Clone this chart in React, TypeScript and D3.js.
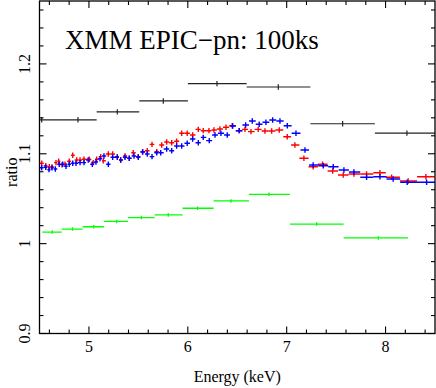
import React from "react";
import * as d3 from "d3";

// ---- data (energy keV, ratio) ----
const blackE = [4.522, 4.889, 5.287, 5.752, 6.295, 6.915, 7.566, 8.216];
const blackLo = [4.337, 4.707, 5.078, 5.509, 6.001, 6.595, 7.240, 7.892];
const blackHi = [4.707, 5.078, 5.509, 6.001, 6.595, 7.240, 7.892, 8.540];
const blackR = [1.1378, 1.1378, 1.1466, 1.1588, 1.178, 1.1743, 1.1334, 1.123];
const blackErr = 0.003;

const greenE = [4.629, 4.834, 5.048, 5.281, 5.530, 5.802, 6.099, 6.436, 6.821, 7.303, 7.927];
const greenLo = [4.528, 4.724, 4.936, 5.151, 5.394, 5.664, 5.947, 6.261, 6.618, 7.033, 7.576];
const greenHi = [4.724, 4.936, 5.151, 5.394, 5.664, 5.947, 6.261, 6.618, 7.033, 7.576, 8.227];
const greenR = [1.0129, 1.0162, 1.0188, 1.0247, 1.029, 1.032, 1.0394, 1.0475, 1.0549, 1.0218, 1.0063];
const greenErr = 0.002;

const redE = [4.522, 4.563, 4.599, 4.626, 4.667, 4.694, 4.728, 4.758, 4.801, 4.836, 4.876, 4.910, 4.950, 5.004, 5.044, 5.078, 5.119, 5.145, 5.196, 5.240, 5.287, 5.321, 5.365, 5.408, 5.448, 5.499, 5.543, 5.590, 5.638, 5.685, 5.736, 5.786, 5.837, 5.887, 5.938, 5.994, 6.049, 6.106, 6.156, 6.214, 6.264, 6.325, 6.386, 6.449, 6.520, 6.578, 6.639, 6.712, 6.780, 6.848, 6.925, 7.006, 7.083, 7.174, 7.268, 7.363, 7.465, 7.572, 7.680, 7.808, 7.943, 8.061, 8.229, 8.408];
const redR = [1.0894, 1.0867, 1.0856, 1.0853, 1.0901, 1.0916, 1.0878, 1.0883, 1.0916, 1.0983, 1.0931, 1.0931, 1.0939, 1.0939, 1.0901, 1.0939, 1.0968, 1.0923, 1.0998, 1.0998, 1.0968, 1.0931, 1.0975, 1.0950, 1.1012, 1.0968, 1.1023, 1.1034, 1.1105, 1.1023, 1.1098, 1.1131, 1.1123, 1.1139, 1.1228, 1.1228, 1.1209, 1.1272, 1.1257, 1.1257, 1.1265, 1.1276, 1.1295, 1.1312, 1.1257, 1.1272, 1.1246, 1.1272, 1.1254, 1.1254, 1.1265, 1.1190, 1.1098, 1.0950, 1.0856, 1.0883, 1.0808, 1.0764, 1.0775, 1.0775, 1.0789, 1.0738, 1.0697, 1.0745];
const redErr = 0.003;

const blueE = [4.522, 4.563, 4.596, 4.626, 4.660, 4.700, 4.735, 4.768, 4.801, 4.836, 4.869, 4.910, 4.950, 4.993, 5.034, 5.071, 5.112, 5.152, 5.196, 5.240, 5.287, 5.321, 5.365, 5.408, 5.456, 5.499, 5.543, 5.590, 5.638, 5.685, 5.726, 5.786, 5.837, 5.887, 5.938, 5.994, 6.049, 6.106, 6.156, 6.217, 6.275, 6.335, 6.399, 6.454, 6.520, 6.585, 6.652, 6.722, 6.790, 6.858, 6.932, 7.006, 7.094, 7.185, 7.268, 7.370, 7.471, 7.579, 7.680, 7.808, 7.943, 8.077, 8.219, 8.415];
const blueR = [1.0845, 1.0850, 1.0823, 1.0845, 1.0831, 1.0883, 1.0883, 1.0861, 1.0883, 1.0894, 1.0894, 1.0901, 1.0901, 1.0931, 1.0883, 1.0909, 1.0945, 1.0975, 1.0883, 1.0961, 1.0961, 1.0931, 1.0961, 1.0950, 1.0975, 1.0961, 1.1020, 1.0998, 1.0968, 1.1012, 1.1012, 1.1053, 1.1034, 1.1087, 1.1087, 1.1117, 1.1165, 1.1123, 1.1183, 1.1146, 1.1209, 1.1228, 1.1209, 1.1309, 1.1257, 1.1320, 1.1365, 1.1328, 1.1350, 1.1376, 1.1365, 1.1312, 1.1228, 1.1042, 1.0875, 1.0867, 1.0856, 1.0819, 1.0797, 1.0738, 1.0745, 1.0719, 1.0683, 1.0683];
const blueErr = 0.003;

const xMajor = [5, 6, 7, 8];
const yMajor = [0.9, 1, 1.1, 1.2];
const yLabels = ["0.9", "1", "1.1", "1.2"];
const title = "XMM EPIC\u2212pn: 100ks";

const W = 436, H = 388;
const L = 39.5, R = 435, T = 1, B = 333.5;
const FONT = "'Liberation Serif', 'Times New Roman', serif";

function binEdges(e: number[]) {
  const lo: number[] = [], hi: number[] = [];
  for (let i = 0; i < e.length; i++) {
    const prev = i > 0 ? (e[i - 1] + e[i]) / 2 : e[i] - (e[i + 1] - e[i]) / 2;
    const next = i < e.length - 1 ? (e[i] + e[i + 1]) / 2 : e[i] + (e[i] - e[i - 1]) / 2;
    lo.push(prev); hi.push(next);
  }
  return { lo, hi };
}

export default function App() {
  const x = d3.scaleLinear().domain([4.5, 8.5]).range([L, R]);
  const y = d3.scaleLinear().domain([0.9, 1.27]).range([B, T]);

  const xMinor = d3.range(4.6, 8.5, 0.2).filter((v) => !xMajor.some((m) => Math.abs(m - v) < 1e-6));
  const yMinor = d3.range(0.92, 1.27, 0.02).filter((v) => !yMajor.some((m) => Math.abs(m - v) < 1e-6));

  const crosses = (
    e: number[], lo: number[], hi: number[], r: number[], err: number,
    color: string, sw: number, key: string
  ) => (
    <g key={key} stroke={color} strokeWidth={sw} fill="none">
      {e.map((v, i) => (
        <g key={i}>
          <line x1={x(lo[i])} x2={x(hi[i])} y1={y(r[i])} y2={y(r[i])} />
          <line x1={x(v)} x2={x(v)} y1={y(r[i] - err)} y2={y(r[i] + err)} />
        </g>
      ))}
    </g>
  );

  const red = binEdges(redE);
  const blue = binEdges(blueE);

  return (
    <svg width={W} height={H} style={{ position: "absolute", left: 0, top: 0, background: "#fff" }}>
      <defs>
        <clipPath id="plot">
          <rect x={L} y={T} width={R - L} height={B - T} />
        </clipPath>
      </defs>
      <rect x={0} y={0} width={W} height={H} fill="#fff" />
      <g clipPath="url(#plot)">
        {crosses(blackE, blackLo, blackHi, blackR, blackErr, "#222", 1.2, "k")}
        {crosses(greenE, greenLo, greenHi, greenR, greenErr, "#00ff00", 1.3, "g")}
        {crosses(redE, red.lo, red.hi, redR, redErr, "#ff0000", 1.4, "r")}
        {crosses(blueE, blue.lo, blue.hi, blueR, blueErr, "#0000ff", 1.4, "b")}
      </g>
      {/* ticks */}
      <g stroke="#000" strokeWidth={1.1}>
        {xMajor.map((v) => (
          <g key={"xm" + v}>
            <line x1={x(v)} x2={x(v)} y1={B} y2={B - 7} />
            <line x1={x(v)} x2={x(v)} y1={T} y2={T + 7} />
          </g>
        ))}
        {xMinor.map((v) => (
          <g key={"xn" + v}>
            <line x1={x(v)} x2={x(v)} y1={B} y2={B - 4} />
            <line x1={x(v)} x2={x(v)} y1={T} y2={T + 4} />
          </g>
        ))}
        {yMajor.map((v) => (
          <g key={"ym" + v}>
            <line x1={L} x2={L + 7} y1={y(v)} y2={y(v)} />
            <line x1={R} x2={R - 7} y1={y(v)} y2={y(v)} />
          </g>
        ))}
        {yMinor.map((v) => (
          <g key={"yn" + v}>
            <line x1={L} x2={L + 4} y1={y(v)} y2={y(v)} />
            <line x1={R} x2={R - 4} y1={y(v)} y2={y(v)} />
          </g>
        ))}
      </g>
      <rect x={L} y={T} width={R - L} height={B - T} fill="none" stroke="#000" strokeWidth={1.3} />
      <g fontFamily={FONT} fontSize={16} fill="#000">
        {xMajor.map((v) => (
          <text key={"xl" + v} x={x(v)} y={352} textAnchor="middle">{v}</text>
        ))}
        {yMajor.map((v, i) => (
          <text key={"yl" + v} transform={`translate(30,${y(v)}) rotate(-90)`} textAnchor="middle">{yLabels[i]}</text>
        ))}
        <text x={(L + R) / 2} y={382} textAnchor="middle">Energy (keV)</text>
        <text transform={`translate(17,${(T + B) / 2 + 5}) rotate(-90)`} textAnchor="middle">ratio</text>
      </g>
      <text x={65} y={48.5} fontFamily={FONT} fontSize={27} fill="#000">{title}</text>
    </svg>
  );
}
